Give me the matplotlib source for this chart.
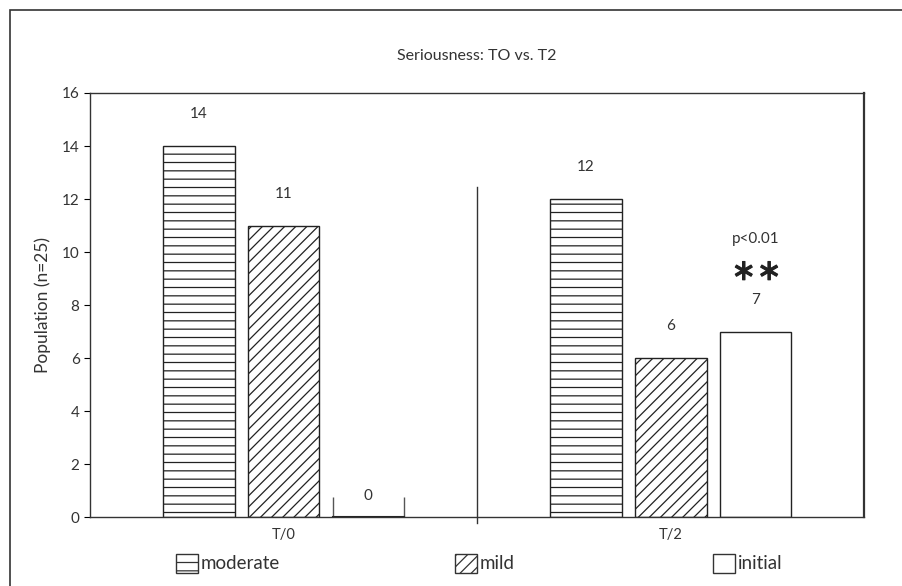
import numpy as np
import matplotlib
matplotlib.use('Agg')
from matplotlib import pyplot as plt
from matplotlib.patches import Patch, Rectangle
import matplotlib.patheffects as pe

plt.rcParams['font.family'] = ['Lato', 'DejaVu Sans']
plt.rcParams['mathtext.fontset'] = 'dejavusans'
plt.rcParams['hatch.linewidth'] = 0.9

# podaci
grupe = ['T/0', 'T/2']
serije = ['moderate', 'mild', 'initial']
moderate = [14, 12]
mild = [11, 6]
initial = [0, 7]
serije_vr = [moderate, mild, initial]
srafure = ['--', '///', '']

fig = plt.figure(figsize=(9.03, 5.86), dpi=100)
ax = fig.add_axes([0.0997, 0.1177, 0.8575, 0.7236])

x = np.arange(len(grupe))
sirina = 0.185
pomeraj = [-0.219, 0, 0.219]

for vr, h, p in zip(serije_vr, srafure, pomeraj):
    bars = ax.bar(x + p, vr, sirina, color='white', edgecolor='#222222',
                  hatch=h, linewidth=1.0)
    for b, v in zip(bars, vr):
        if v == 0:
            # Excel crta "prazan" stubac kao zagradu
            x0 = b.get_x()
            ax.vlines([x0, x0 + sirina], 0, 0.75, color='#555555', lw=1)
            ax.plot([x0, x0 + sirina], [0, 0], color='#222222', lw=1.5)
        ax.text(b.get_x() + sirina / 2, v + (1.2 if v > 0 else 0.8), str(v),
                ha='center', va='center', fontsize=11, color='#333333')

# linija izmedju grupa
ax.plot([0.5, 0.5], [-0.22, 12.45], color='#333333', lw=1, clip_on=False)

# znacajnost
ax.text(1 + pomeraj[2], 10.5, 'p<0.01', ha='center', va='center', fontsize=11, color='#333333')
ax.text(1 + pomeraj[2], 9.25, r'$\ast\!\ast$', ha='center', va='center', fontsize=21,
        color='#222222', path_effects=[pe.withStroke(linewidth=0.8, foreground='#222222')])

ax.set_xlim(-0.5, 1.5)
ax.set_ylim(0, 16)
ax.set_yticks(range(0, 17, 2))
ax.set_xticks(x)
ax.set_xticklabels(grupe, fontsize=10.5, color='#333333')
ax.tick_params(axis='x', length=0, pad=8)
ax.tick_params(axis='y', direction='out', length=4, labelsize=11, labelcolor='#333333')
for s in ax.spines.values():
    s.set_color('#333333')
    s.set_linewidth(1.0)
ax.spines['right'].set_linewidth(1.6)
ax.set_ylabel('Population (n=25)', fontsize=12.5, color='#333333', labelpad=8)
ax.set_title('Seriousness: TO vs. T2', fontsize=11.5, color='#333333', pad=24)

# legenda - tri odvojena unosa
leg_x = [0.195, 0.504, 0.79]
for s, h, lx in zip(serije, srafure, leg_x):
    handle = Patch(facecolor='white', edgecolor='#333333', hatch=h, label=s)
    lg = fig.legend(handles=[handle], loc='center left', bbox_to_anchor=(lx, 0.039),
                    frameon=False, fontsize=13.5, handlelength=1.15, handleheight=1.2,
                    handletextpad=0.15, borderpad=0, borderaxespad=0)
    for t in lg.get_texts():
        t.set_color('#333333')

# okvir oko cele slike
fig.add_artist(Rectangle((10 / 903, -0.1), 1.2, 1.1 - 10 / 586, transform=fig.transFigure,
                         fill=False, edgecolor='#333333', lw=1.2))

fig.savefig('out.png', dpi=100)
